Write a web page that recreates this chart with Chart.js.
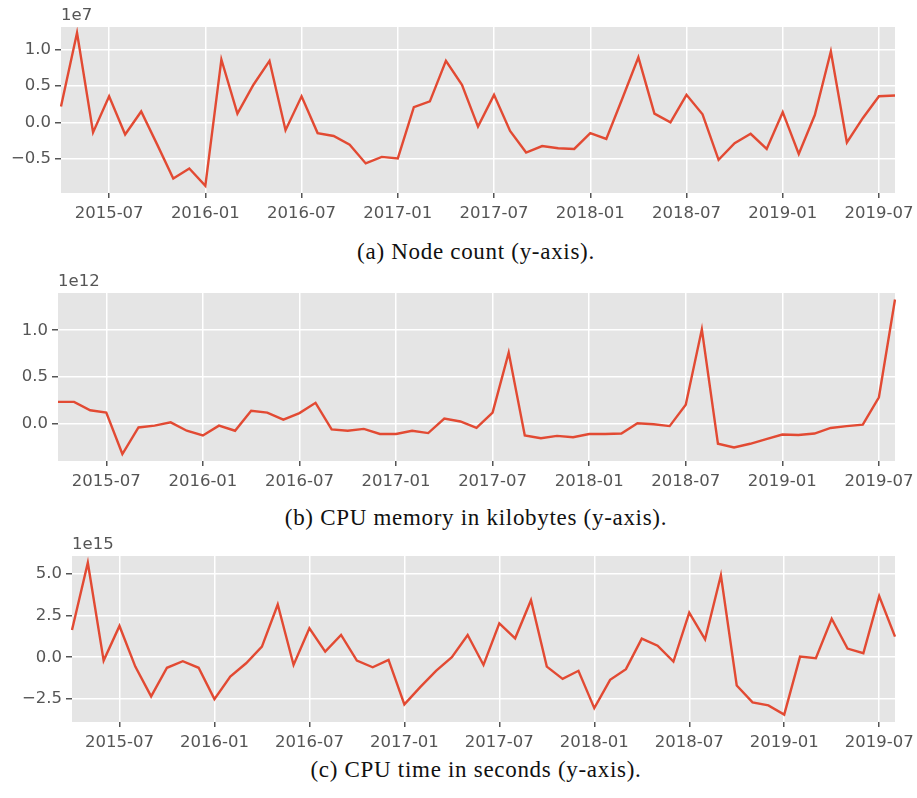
<!DOCTYPE html>
<html>
<head>
<meta charset="utf-8">
<script src="https://cdn.jsdelivr.net/npm/chart.js@4"></script>
<style>
    body { margin: 0; background: #fff; width: 917px; height: 798px; position: relative; overflow: hidden; }
    .panel { position: absolute; left: 0; }
    .caption {
        position: absolute; left: 176px; width: 600px; text-align: center;
        font-family: 'Liberation Serif', serif; font-size: 23px; letter-spacing: 0.7px; color: #111;
    }
</style>
</head>
<body>
<div class="panel" style="top:0px"><canvas id="chart_a" width="917" height="223"></canvas></div>
<div class="caption" style="top:239px">(a) Node count (y-axis).</div>
<div class="panel" style="top:266px"><canvas id="chart_b" width="917" height="225"></canvas></div>
<div class="caption" style="top:505px">(b) CPU memory in kilobytes (y-axis).</div>
<div class="panel" style="top:529px"><canvas id="chart_c" width="917" height="223"></canvas></div>
<div class="caption" style="top:757px">(c) CPU time in seconds (y-axis).</div>
<script>
// monthly buckets, 2015-04 .. 2019-08
const months = []
for (let y = 2015; y <= 2019; y++) {
    for (let m = 1; m <= 12; m++) {
        if ((y === 2015 && m < 4) || (y === 2019 && m > 8)) continue
        months.push(y + '-' + String(m).padStart(2, '0'))
    }
}

// values in units of the axis offset (1e7, 1e12, 1e15)
const nodeCount = [0.22, 1.24, -0.14, 0.36, -0.17, 0.15, -0.31, -0.78, -0.64, -0.88,
    0.87, 0.12, 0.52, 0.85, -0.11, 0.36, -0.15, -0.19, -0.31, -0.57,
    -0.48, -0.50, 0.21, 0.29, 0.85, 0.52, -0.06, 0.38, -0.12, -0.42,
    -0.33, -0.36, -0.37, -0.15, -0.23, 0.33, 0.90, 0.12, 0.00, 0.38,
    0.11, -0.52, -0.29, -0.16, -0.37, 0.14, -0.44, 0.10, 0.98, -0.28,
    0.06, 0.36, 0.37]

const cpuMemory = [0.23, 0.23, 0.14, 0.115, -0.33, -0.045, -0.025, 0.01, -0.08, -0.13,
    -0.025, -0.08, 0.135, 0.115, 0.04, 0.11, 0.22, -0.065, -0.08, -0.06,
    -0.115, -0.115, -0.08, -0.105, 0.05, 0.02, -0.05, 0.115, 0.76, -0.13,
    -0.16, -0.135, -0.15, -0.115, -0.115, -0.11, 0.0, -0.01, -0.03, 0.20,
    1.01, -0.22, -0.26, -0.22, -0.17, -0.12, -0.125, -0.11, -0.05, -0.03,
    -0.015, 0.28, 1.33]

const cpuTime = [1.63, 5.65, -0.2, 1.87, -0.56, -2.34, -0.63, -0.24, -0.63, -2.50,
    -1.15, -0.36, 0.63, 3.15, -0.46, 1.73, 0.34, 1.33, -0.2, -0.6,
    -0.16, -2.82, -1.79, -0.81, 0.0, 1.33, -0.46, 2.02, 1.13, 3.41,
    -0.56, -1.29, -0.81, -3.04, -1.35, -0.71, 1.11, 0.69, -0.26, 2.66,
    1.07, 4.90, -1.69, -2.70, -2.88, -3.43, 0.04, -0.06, 2.30, 0.52,
    0.24, 3.65, 1.23]

const isMajor = (i) => months[i].endsWith('-01') || months[i].endsWith('-07')

const tickFont = { family: 'DejaVu Sans', size: 16.5 }
const tickGray = '#555555'

function makeChart(id, values, offsetText, yMin, yMax, yStep, leftWidth) {
    const ctx = document.querySelector('#' + id).getContext('2d')
    return new Chart(ctx, {
        type: 'line',
        data: {
            labels: months,
            datasets: [{
                data: values,
                borderColor: '#E24A33',
                borderWidth: 2.4,
                pointRadius: 0,
                tension: 0
            }]
        },
        options: {
            responsive: false,
            animation: false,
            layout: { padding: { top: 27, right: 22, left: 0, bottom: 0 } },
            plugins: { legend: { display: false }, tooltip: { enabled: false } },
            scales: {
                x: {
                    type: 'category',
                    offset: false,
                    border: { display: false },
                    grid: {
                        color: (c) => isMajor(c.index) ? '#ffffff' : 'rgba(0,0,0,0)',
                        tickColor: (c) => isMajor(c.index) ? tickGray : 'rgba(0,0,0,0)',
                        lineWidth: 1.5,
                        tickLength: 5
                    },
                    ticks: {
                        autoSkip: false,
                        maxRotation: 0,
                        minRotation: 0,
                        padding: 6,
                        color: tickGray,
                        font: tickFont,
                        callback: (v, i) => isMajor(i) ? months[i] : ''
                    },
                    afterFit: (scale) => { scale.height = 30 }
                },
                y: {
                    min: yMin,
                    max: yMax,
                    border: { display: false },
                    grid: { color: '#ffffff', tickColor: tickGray, lineWidth: 1.5, tickLength: 6 },
                    ticks: {
                        stepSize: yStep,
                        includeBounds: false,
                        padding: 4,
                        color: tickGray,
                        font: tickFont,
                        callback: (v) => (Math.abs(v) < 1e-9 ? 0 : v).toFixed(1).replace('-', '\u2212')
                    },
                    afterFit: (scale) => { scale.width = leftWidth }
                }
            }
        },
        plugins: [{
            id: 'panelBackground',
            beforeDraw: (chart) => {
                const a = chart.chartArea
                const c = chart.ctx
                c.save()
                c.fillStyle = '#E5E5E5'
                c.fillRect(a.left, a.top, a.right - a.left, a.bottom - a.top)
                c.restore()
            },
            afterDraw: (chart) => {
                const a = chart.chartArea
                const c = chart.ctx
                c.save()
                c.fillStyle = tickGray
                c.font = '16.5px "DejaVu Sans"'
                c.textBaseline = 'middle'
                c.textAlign = 'left'
                c.fillText(offsetText, a.left, a.top - 11)
                c.restore()
            }
        }]
    })
}

makeChart('chart_a', nodeCount, '1e7', -0.98, 1.32, 0.5, 61)
makeChart('chart_b', cpuMemory, '1e12', -0.405, 1.40, 0.5, 58)
makeChart('chart_c', cpuTime, '1e15', -3.87, 6.05, 2.5, 72)
</script>
</body>
</html>
